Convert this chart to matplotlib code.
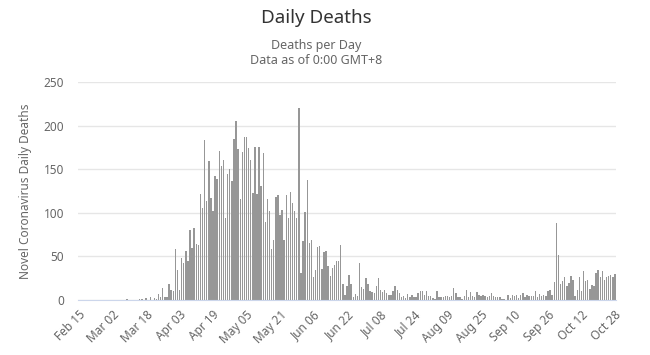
import matplotlib
matplotlib.use('Agg')
import matplotlib.pyplot as plt
import numpy as np
import pandas as pd

plt.rcParams['font.family'] = ['Noto Sans', 'DejaVu Sans']

# daily deaths, Feb 15 .. Oct 28
dates = pd.date_range('2020-02-15', '2020-10-28')
deaths = [
    0, 0, 0, 0, 0, 0, 0, 0, 0, 0, 0, 0, 0, 0, 0, 0, 0, 0, 0, 0, 0, 0, 0, 1,
    0, 0, 0, 0, 0, 1, 1, 0, 2, 0, 4, 0, 2, 1, 7, 3, 14, 4, 4, 18, 12, 10,
    58, 34, 12, 48, 42, 56, 45, 80, 60, 83, 64, 63, 122, 106, 184, 114, 159, 117, 102, 142,
    139, 171, 154, 161, 94, 145, 150, 136, 185, 205, 173, 116, 170, 187, 187, 174, 161, 123,
    176, 121, 175, 131, 169, 89, 116, 102, 59,
    69, 118, 120, 97, 103, 69, 120, 94, 124, 111, 102, 94, 220, 31, 68, 101, 138, 65, 69,
    26, 34, 61, 62, 35,
    55, 56, 39, 28, 37, 40, 45, 45, 63, 18, 6, 16, 29, 18, 3, 7, 5, 42, 15, 13, 25, 18, 10,
    9, 8, 16, 25, 11, 9,
    12, 8, 6, 6, 10, 16, 11, 8, 3, 5, 2, 7, 3, 6, 4, 3, 8, 10, 10, 6, 10, 5, 5, 2, 1, 10,
    3, 3, 3, 5, 5, 4, 5, 14, 8, 4, 3, 1, 5, 11, 4,
    9, 5, 3, 9, 6, 5, 6, 5, 3, 5, 8, 5, 3, 4, 4, 1, 1, 0, 6, 2, 6, 5, 6, 2, 6, 8, 4, 6, 5,
    5, 5, 10, 4,
    7, 5, 6, 5, 10, 11, 6, 21, 88, 52, 18, 22, 26, 16, 20, 27, 23, 5, 12, 26, 10, 33, 22,
    23, 13, 17, 16, 31, 34, 26, 33, 23, 26, 27, 29, 26, 30,
]
y_ticks = [0, 50, 100, 150, 200, 250]

fig = plt.figure(figsize=(6.5, 3.55), dpi=100)
ax = fig.add_axes([78 / 650, 55 / 355, 538 / 650, 218 / 355])

x = np.arange(len(dates))
ax.bar(x, deaths, width=0.68, color='#979797', zorder=2)

ax.set_xlim(-0.5, len(dates) - 0.5)
ax.set_ylim(0, 250)
ax.set_yticks(y_ticks)
ax.yaxis.grid(True, color='#e6e6e6', linewidth=1, zorder=0)

tick_pos = x[::16]
ax.set_xticks(tick_pos)
ax.set_xticklabels([d.strftime('%b %d') for d in dates[::16]], rotation=45,
                   ha='right', rotation_mode='anchor', fontsize=8.5, color='#666666')
ax.tick_params(axis='x', length=0, pad=6)
ax.tick_params(axis='y', length=0, pad=10, labelsize=8.5, labelcolor='#666666')

for s in ['top', 'right', 'left']:
    ax.spines[s].set_visible(False)
ax.spines['bottom'].set_color('#ccd6eb')
ax.spines['bottom'].set_zorder(3)

ax.set_ylabel('Novel Coronavirus Daily Deaths', fontsize=8.5, color='#666666', labelpad=8)

fig.text(316 / 650, 1 - 18 / 355, 'Daily Deaths', ha='center', va='center', fontsize=13.5, color='#333333')
fig.text(316 / 650, 1 - 46 / 355, 'Deaths per Day', ha='center', va='center', fontsize=9, color='#666666')
fig.text(316 / 650, 1 - 61 / 355, 'Data as of 0:00 GMT+8', ha='center', va='center', fontsize=9, color='#666666')

fig.savefig('out.png', dpi=100)
